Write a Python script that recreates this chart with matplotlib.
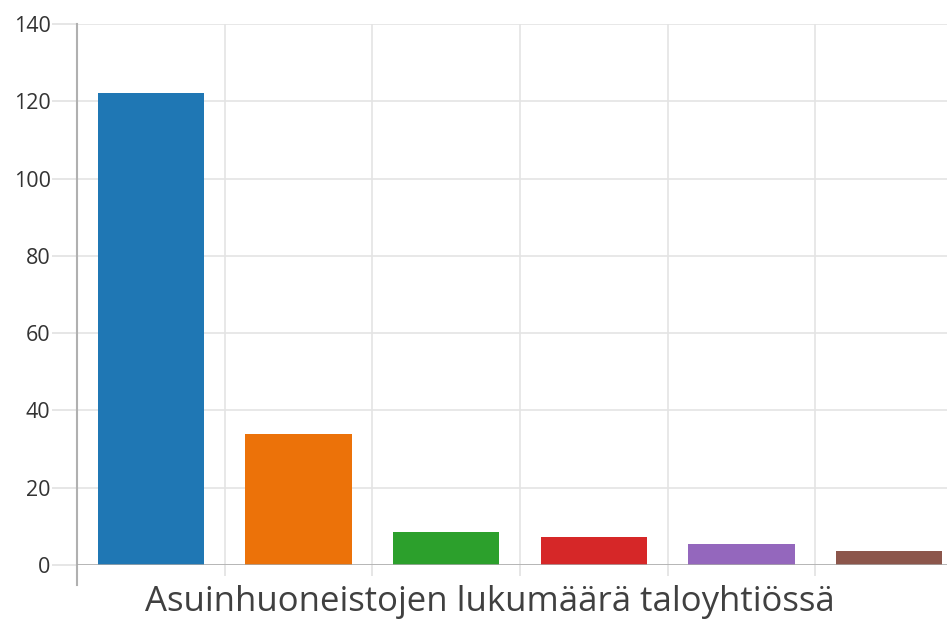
import matplotlib
matplotlib.use("Agg")
import matplotlib.pyplot as plt

categories = ["1", "2", "3", "4", "5", "6"]
values = [122.2, 34, 8.5, 7.2, 5.4, 3.5]
colors = ["#1f77b4", "#ec7209", "#2ca02c", "#d62728", "#9467bd", "#8c564b"]
yticks = [0, 20, 40, 60, 80, 100, 120, 140]
xlabel = "Asuinhuoneistojen lukumäärä taloyhtiössä"

plt.rcParams['font.family'] = ['Open Sans', 'DejaVu Sans']

W, H = 947, 622
fig = plt.figure(figsize=(W / 100, H / 100), dpi=100)
left, right, top, bottom = 77, 963, 24, 565
ax = fig.add_axes([left / W, (H - bottom) / H, (right - left) / W, (bottom - top) / H])

x = list(range(len(categories)))
ax.bar(x, values, width=0.72, color=colors, zorder=3)
ax.set_xlim(-0.5, len(categories) - 0.5)
ax.set_ylim(0, 140)

for s in ["top", "right", "bottom"]:
    ax.spines[s].set_visible(False)
ax.spines["left"].set_color("#b0b0b0")
ax.spines["left"].set_linewidth(1.5)
ax.spines["left"].set_bounds(-5.2, 140)

ax.axhline(0, color="#a8a8a8", lw=1.8, zorder=4)

ax.set_yticks(yticks)
ax.tick_params(axis="y", length=18, width=1.2, color="#e2e2e2", labelsize=15.5,
               labelcolor="#333333", pad=1)
ax.yaxis.grid(True, color="#e4e4e4", lw=1.2, zorder=0)

bounds = [i + 0.5 for i in range(len(categories) - 1)]
ax.set_xticks(bounds)
ax.set_xticklabels([])
ax.tick_params(axis="x", length=8, width=1.2, color="#e2e2e2", direction="out")
ax.xaxis.grid(True, color="#e4e4e4", lw=1.2, zorder=0)
ax.set_axisbelow(True)

fig.text(490 / W, 1 - 602 / H, xlabel, ha="center", va="center", fontsize=25,
         color="#404040")

fig.savefig("out.png", dpi=100)
